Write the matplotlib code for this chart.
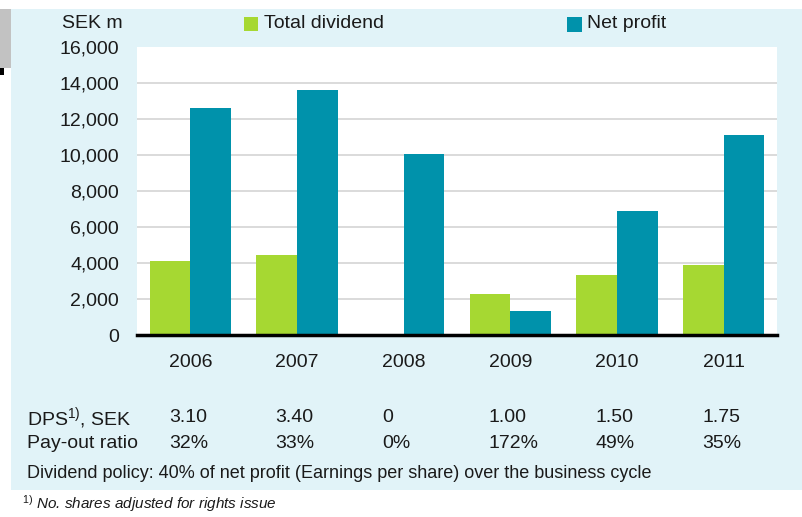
import matplotlib.pyplot as plt
import numpy as np
from matplotlib.patches import Rectangle

plt.rcParams['font.family'] = ['Liberation Sans', 'DejaVu Sans']
plt.rcParams['mathtext.fontset'] = 'custom'
plt.rcParams['mathtext.rm'] = 'Liberation Sans'
plt.rcParams['mathtext.it'] = 'Liberation Sans:italic'

years = ['2006', '2007', '2008', '2009', '2010', '2011']
dividend = [4130, 4460, 0, 2260, 3360, 3910]
net_profit = [12620, 13600, 10080, 1320, 6890, 11130]
dps = ['3.10', '3.40', '0', '1.00', '1.50', '1.75']
payout = ['32%', '33%', '0%', '172%', '49%', '35%']
yticks = [0, 2000, 4000, 6000, 8000, 10000, 12000, 14000, 16000]

W, H = 802, 517
green = '#A6D832'
teal = '#0092AB'
panel = '#E1F3F8'
txt = '#1a1a1a'


def px(x, y):
    # pixel position (from top-left) -> figure fraction
    return x / W, 1 - y / H


def box(x0, y_bottom, w, h, color):
    fig.patches.append(Rectangle(px(x0, y_bottom), w / W, h / H, transform=fig.transFigure,
                                 facecolor=color, edgecolor='none', zorder=-1))


fig = plt.figure(figsize=(W / 100, H / 100), dpi=100)
fig.patch.set_facecolor('white')

# light blue panel and the little grey strip at the left edge
box(11, 490, W - 11, 481, panel)
box(0, 68, 11, 59, '#C2C2C2')
box(0, 75, 4, 7, 'black')

ax = fig.add_axes([137 / W, (H - 335) / H, 640 / W, 288 / H])
ax.set_facecolor('white')
x = np.arange(len(years))
bw = 0.38
ax.bar(x - bw / 2, dividend, bw, color=green, zorder=3)
ax.bar(x + bw / 2, net_profit, bw, color=teal, zorder=3)

ax.set_xlim(-0.5, len(years) - 0.5)
ax.set_ylim(0, 16000)
for s in ax.spines.values():
    s.set_visible(False)
for v in yticks[1:-1]:
    ax.axhline(v, color='#D4D4D4', lw=1.2, zorder=1)
ax.axhline(0, color='black', lw=2.5, zorder=4, clip_on=False)

ax.set_yticks(yticks)
ax.set_yticklabels([f'{v:,}' for v in yticks])
ax.set_xticks(x)
ax.set_xticklabels(years)
ax.tick_params(axis='y', length=0, pad=13, labelsize=14, labelcolor=txt)
ax.tick_params(axis='x', length=0, pad=14, labelsize=14, labelcolor=txt)

# unit and legend
fig.text(*px(62, 24), 'SEK m', fontsize=14, color=txt, ha='left', va='center')
box(244, 31, 14, 14, green)
fig.text(*px(264, 24), 'Total dividend', fontsize=14, color=txt, ha='left', va='center')
box(567, 32, 15, 15, teal)
fig.text(*px(587, 24), 'Net profit', fontsize=14, color=txt, ha='left', va='center')

# table under the chart, values left-aligned with the year labels
fig.text(*px(27, 418), 'DPS$^{1)}$, SEK', fontsize=14, color=txt, ha='left', va='center')
fig.text(*px(27, 443), 'Pay-out ratio', fontsize=14, color=txt, ha='left', va='center')
row_dps = (335 - 418) / 288
row_pay = (335 - 443) / 288
tr = ax.get_xaxis_transform()
for i in range(len(years)):
    ax.text(i - 0.2, row_dps, dps[i], transform=tr, fontsize=14, color=txt,
            ha='left', va='center', clip_on=False)
    ax.text(i - 0.2, row_pay, payout[i], transform=tr, fontsize=14, color=txt,
            ha='left', va='center', clip_on=False)
fig.text(*px(27, 473), 'Dividend policy: 40% of net profit (Earnings per share) over the business cycle',
         fontsize=13, color=txt, ha='left', va='center')
fig.text(*px(22, 504), '$^{1)}$ No. shares adjusted for rights issue', fontsize=11,
         color=txt, style='italic', ha='left', va='center')

fig.savefig('out.png', dpi=100)
